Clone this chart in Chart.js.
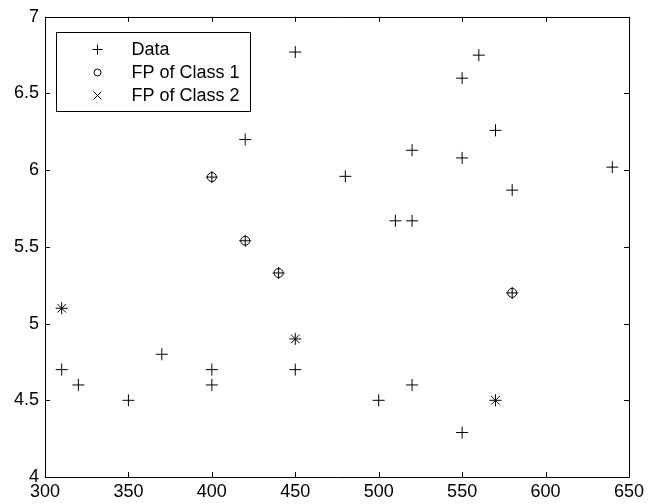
<!DOCTYPE html>
<html>
<head>
<meta charset="utf-8">
<script src="https://cdn.jsdelivr.net/npm/chart.js@4"></script>
<style>
html,body{margin:0;padding:0;background:#fff;}
#wrap{width:648px;height:504px;position:relative;}
</style>
</head>
<body>
<div id="wrap"><canvas id="c" width="648" height="504"></canvas></div>
<script>
// data
const dataX = [310,320,350,370,400,400,450,500,520,550,570,580,310,450,400,420,440,420,450,480,510,520,520,550,550,560,570,580,640];
const dataY = [4.7,4.6,4.5,4.8,4.7,4.6,4.7,4.5,4.6,4.29,4.5,5.2,5.1,4.9,5.955,5.54,5.33,6.2,6.77,5.96,5.67,5.67,6.13,6.08,6.6,6.75,6.26,5.87,6.02];
const fp1X = [400,420,440,580];
const fp1Y = [5.955,5.54,5.33,5.2];
const fp2X = [310,450,570];
const fp2Y = [5.1,4.9,4.5];
const seriesNames = ['Data','FP of Class 1','FP of Class 2'];
const xTicks = [300,350,400,450,500,550,600,650];
const yTicks = [4,4.5,5,5.5,6,6.5,7];

const pts = (xs,ys)=>xs.map((x,i)=>({x:x,y:ys[i]}));
const FONT = 'Liberation Sans, Arial, sans-serif';

// box, inward ticks, legend
const matlabAxes = {
  id:'matlabAxes',
  afterDraw(chart){
    const {ctx, chartArea:a, scales:{x,y}} = chart;
    ctx.save();
    ctx.strokeStyle='#000'; ctx.lineWidth=1;
    ctx.beginPath();
    ctx.rect(Math.round(a.left)+0.5, Math.round(a.top)+0.5, Math.round(a.right-a.left), Math.round(a.bottom-a.top));
    ctx.stroke();
    const t=5;
    ctx.beginPath();
    xTicks.forEach(v=>{
      const px=Math.round(x.getPixelForValue(v))+0.5;
      ctx.moveTo(px,a.bottom); ctx.lineTo(px,a.bottom-t);
      ctx.moveTo(px,a.top); ctx.lineTo(px,a.top+t);
    });
    yTicks.forEach(v=>{
      const py=Math.round(y.getPixelForValue(v))+0.5;
      ctx.moveTo(a.left,py); ctx.lineTo(a.left+t,py);
      ctx.moveTo(a.right,py); ctx.lineTo(a.right-t,py);
    });
    ctx.stroke();

    // legend
    const lx=Math.round(a.left)+11.5, ly=Math.round(a.top)+15.5, lw=194, lh=79;
    ctx.fillStyle='#fff';
    ctx.fillRect(lx,ly,lw,lh);
    ctx.strokeRect(lx,ly,lw,lh);
    ctx.font='18px '+FONT;
    ctx.textBaseline='middle';
    chart.data.datasets.forEach((ds,i)=>{
      const cy=ly+17+i*23;
      ctx.fillStyle='rgba(0,0,0,0)';
      Chart.helpers.drawPoint(ctx,{pointStyle:ds.pointStyle,radius:ds.legendRadius,borderWidth:1},lx+41,cy);
      ctx.fillStyle='#000';
      ctx.fillText(ds.label,lx+75,cy+1);
    });
    ctx.restore();
  }
};

new Chart(document.getElementById('c'),{
  type:'scatter',
  data:{datasets:[
    {label:seriesNames[0],data:pts(dataX,dataY),pointStyle:'cross',pointRadius:6,legendRadius:5,borderColor:'#000',backgroundColor:'transparent',borderWidth:1},
    {label:seriesNames[1],data:pts(fp1X,fp1Y),pointStyle:'circle',pointRadius:4.5,legendRadius:3.5,borderColor:'#000',backgroundColor:'transparent',borderWidth:1},
    {label:seriesNames[2],data:pts(fp2X,fp2Y),pointStyle:'crossRot',pointRadius:6,legendRadius:5.5,borderColor:'#000',backgroundColor:'transparent',borderWidth:1}
  ]},
  options:{
    responsive:false,
    animation:false,
    events:[],
    layout:{padding:{left:0,right:14,top:14,bottom:0}},
    plugins:{legend:{display:false},tooltip:{enabled:false}},
    scales:{
      x:{type:'linear',min:300,max:650,
        afterBuildTicks:s=>{s.ticks=xTicks.map(v=>({value:v}));},
        afterFit:s=>{s.height=27;},
        grid:{display:false,drawTicks:false},
        border:{display:false},
        ticks:{color:'#000',font:{family:FONT,size:18},padding:4,maxRotation:0,autoSkip:false,callback:v=>String(v)}},
      y:{type:'linear',min:4,max:7,
        afterBuildTicks:s=>{s.ticks=yTicks.map(v=>({value:v}));},
        afterFit:s=>{s.width=45;},
        grid:{display:false,drawTicks:false},
        border:{display:false},
        ticks:{color:'#000',font:{family:FONT,size:18},padding:6,autoSkip:false,callback:v=>String(v)}}
    }
  },
  plugins:[matlabAxes]
});
</script>
</body>
</html>
